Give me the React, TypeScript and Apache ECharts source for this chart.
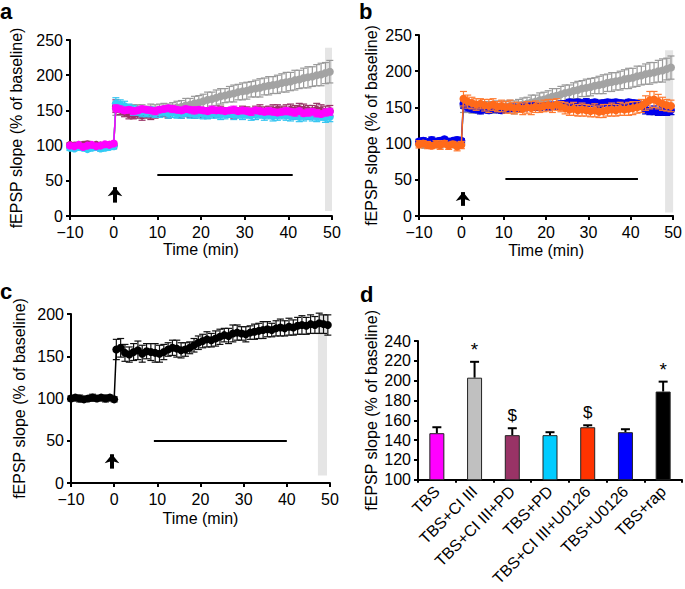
import React, { useEffect, useRef } from 'react';
import * as echarts from 'echarts';

const FONT = "'Liberation Sans', Arial, Helvetica, sans-serif";

// time points (min)
const TIME = [
  -10, -9, -8, -7, -6, -5, -4, -3, -2, -1, 0,
  0.5, 1.5, 2.5, 3.5, 4.5, 5.5, 6.5, 7.5, 8.5, 9.5,
  10.5, 11.5, 12.5, 13.5, 14.5, 15.5, 16.5, 17.5, 18.5, 19.5,
  20.5, 21.5, 22.5, 23.5, 24.5, 25.5, 26.5, 27.5, 28.5, 29.5,
  30.5, 31.5, 32.5, 33.5, 34.5, 35.5, 36.5, 37.5, 38.5, 39.5,
  40.5, 41.5, 42.5, 43.5, 44.5, 45.5, 46.5, 47.5, 48.5, 49.5,
];

// TBS (magenta)
const TBS_VAL = [
  100, 99, 101, 98, 100, 101, 99, 100, 102, 101, 103,
  153, 152, 150, 151, 149, 150, 152, 151, 150, 149,
  151, 152, 153, 152, 151, 150, 152, 151, 150, 151,
  150, 149, 151, 150, 150, 149, 150, 151, 149, 150,
  149, 148, 150, 149, 148, 149, 148, 147, 148, 149,
  148, 147, 149, 146, 147, 148, 146, 145, 147, 148,
];
const TBS_ERR = [
  3, 3, 2, 3, 3, 2, 3, 3, 2, 3, 3,
  5, 4, 4, 4, 5, 4, 4, 4, 4, 5,
  4, 4, 4, 5, 4, 4, 4, 4, 5, 4,
  4, 4, 5, 4, 4, 4, 4, 5, 4, 4,
  4, 5, 4, 4, 4, 5, 4, 4, 4, 5,
  4, 5, 4, 4, 5, 4, 5, 4, 5, 5,
];

// TBS+PD (cyan)
const PD_VAL = [
  97, 96, 98, 97, 95, 97, 98, 96, 97, 98, 99,
  160, 158, 156, 153, 150, 149, 148, 147, 148, 146,
  147, 148, 146, 147, 145, 146, 147, 146, 145, 146,
  145, 144, 146, 145, 144, 145, 146, 144, 145, 144,
  145, 143, 144, 145, 143, 144, 142, 143, 144, 143,
  142, 143, 141, 142, 143, 142, 141, 142, 140, 141,
];
const PD_ERR = [
  4, 3, 4, 4, 3, 4, 3, 4, 4, 3, 4,
  8, 7, 7, 6, 7, 6, 7, 6, 7, 6,
  7, 6, 7, 7, 6, 7, 6, 7, 6, 7,
  7, 6, 7, 6, 7, 7, 6, 7, 6, 7,
  6, 7, 7, 6, 7, 6, 7, 7, 6, 7,
  7, 6, 7, 7, 6, 7, 7, 6, 7, 7,
];

// TBS+CI III+PD (purple)
const CIPD_VAL = [
  101, 100, 99, 101, 102, 100, 101, 100, 99, 101, 100,
  156, 152, 148, 145, 144, 146, 143, 145, 144, 146,
  147, 148, 146, 149, 147, 146, 148, 147, 146, 148,
  147, 146, 148, 147, 149, 148, 147, 146, 148, 149,
  148, 147, 149, 150, 148, 149, 150, 151, 149, 150,
  151, 150, 152, 151, 150, 149, 151, 150, 148, 149,
];
const CIPD_ERR = [
  3, 4, 3, 3, 4, 3, 3, 4, 3, 3, 4,
  9, 8, 7, 7, 6, 7, 7, 6, 7, 7,
  6, 7, 7, 6, 7, 7, 6, 7, 7, 6,
  7, 7, 6, 7, 7, 6, 7, 7, 6, 7,
  7, 6, 7, 8, 7, 7, 8, 7, 7, 8,
  8, 7, 8, 8, 7, 8, 9, 8, 8, 8,
];

// TBS+CI III (gray)
const CI_VAL = [
  100, 98, 101, 99, 100, 98, 101, 100, 99, 100, 101,
  152, 151, 150, 149, 150, 151, 150, 149, 151, 150,
  151, 152, 150, 153, 154, 155, 157, 158, 160, 161,
  163, 165, 166, 168, 170, 171, 173, 174, 176, 177,
  178, 180, 181, 182, 184, 185, 186, 187, 189, 190,
  191, 193, 194, 196, 197, 198, 200, 201, 203, 205,
];
const CI_ERR = [
  3, 3, 4, 3, 3, 4, 3, 3, 4, 3, 3,
  9, 8, 8, 7, 8, 7, 8, 7, 8, 8,
  8, 8, 9, 8, 9, 9, 10, 9, 10, 10,
  10, 11, 10, 11, 11, 10, 11, 12, 11, 12,
  12, 11, 12, 13, 12, 13, 12, 13, 13, 14,
  13, 14, 13, 14, 15, 14, 15, 16, 15, 16,
];

// TBS+U0126 (blue)
const U_VAL = [
  103, 104, 102, 105, 103, 104, 106, 103, 104, 105, 104,
  155, 150, 148, 147, 146, 147, 146, 148, 147, 146,
  148, 149, 150, 149, 151, 150, 152, 151, 150, 152,
  151, 153, 152, 154, 155, 157, 156, 157, 156, 157,
  156, 157, 155, 156, 157, 156, 157, 156, 155, 157,
  156, 155, 153, 147, 145, 146, 144, 145, 144, 146,
];
const U_ERR = [
  3, 4, 3, 4, 3, 4, 3, 4, 3, 4, 3,
  6, 5, 4, 4, 5, 4, 4, 5, 4, 4,
  4, 5, 4, 4, 5, 4, 4, 5, 4, 4,
  5, 4, 4, 5, 4, 4, 5, 4, 4, 5,
  4, 4, 5, 4, 4, 5, 4, 4, 5, 4,
  4, 5, 5, 6, 5, 6, 5, 6, 5, 6,
];

// TBS+CI III+U0126 (orange)
const CIU_VAL = [
  99, 100, 98, 97, 99, 98, 100, 97, 99, 96, 98,
  162, 158, 156, 154, 155, 153, 152, 154, 151, 152,
  150, 151, 149, 150, 148, 150, 149, 151, 150, 152,
  153, 152, 154, 151, 149, 147, 148, 146, 147, 146,
  145, 146, 144, 145, 146, 147, 146, 148, 147, 148,
  149, 150, 152, 156, 160, 161, 158, 155, 153, 152,
];
const CIU_ERR = [
  5, 4, 5, 4, 5, 6, 4, 5, 4, 6, 5,
  10, 9, 8, 8, 7, 8, 9, 8, 7, 8,
  8, 9, 8, 7, 8, 8, 9, 8, 7, 8,
  8, 9, 8, 7, 8, 8, 9, 8, 9, 8,
  8, 9, 8, 9, 8, 9, 8, 9, 8, 9,
  9, 8, 9, 10, 12, 11, 10, 9, 8, 8,
];

// TBS+rap (black)
const RAP_VAL = [
  100, 101, 100, 99, 100, 101, 100, 101, 100, 101, 99,
  158, 160, 154, 152, 155, 157, 153, 156, 155, 154,
  153, 155, 158, 160, 159, 157, 158, 160, 163, 166,
  168, 170, 169, 171, 173, 175, 174, 177, 178, 177,
  176, 178, 179, 180, 181, 182, 181, 183, 184, 183,
  185, 184, 186, 187, 186, 188, 187, 189, 188, 187,
];
const RAP_ERR = [
  3, 3, 4, 3, 3, 4, 3, 3, 4, 3, 3,
  12, 11, 10, 9, 10, 11, 10, 9, 10, 11,
  10, 9, 8, 9, 10, 9, 8, 7, 8, 8,
  8, 9, 8, 9, 9, 8, 9, 10, 9, 8,
  9, 8, 9, 9, 10, 9, 8, 9, 10, 9,
  10, 9, 10, 11, 10, 11, 10, 12, 11, 12,
];

// panel d
const BAR_CATS = ['TBS', 'TBS+CI III', 'TBS+CI III+PD', 'TBS+PD', 'TBS+CI III+U0126', 'TBS+U0126', 'TBS+rap'];
const BAR_VAL = [147, 203, 145, 145, 153, 148, 189];
const BAR_ERR = [6, 16, 7, 3, 2, 3, 10];
const BAR_MARK = ['', '*', '$', '', '$', '', '*'];
const BAR_COLORS = ['#ff00ff', '#c0c0c0', '#993366', '#00ccff', '#ff3300', '#0000ff', '#000000'];

// annotations per time panel: [band x0, band x1, band y0, band y1], [bar x0, x1, y], [arrow x, y0, y1]
const BAND_A = [48.4, 50.3, 7, 239];
const BAND_B = [48.1, 50.2, 5, 229];
const BAND_C = [47.2, 49.3, 9, 216];
const DRUG_A = [10, 41, 58];
const DRUG_B = [10.4, 41.7, 51];
const DRUG_C = [9.2, 40, 50];
const ARROW_A = [0.3, 19, 41];
const ARROW_B = [0.4, 14, 33];
const ARROW_C = [-0.5, 17, 34];

const TIME_TICKS = { min: -10, max: 50, interval: 10 };

const axisLineStyle = { show: true, onZero: false, lineStyle: { color: '#000', width: 2 } };
const axisTickStyle = { show: true, inside: false, length: 4, lineStyle: { color: '#000', width: 2 } };
const labelStyle = { color: '#000', fontSize: 16, fontFamily: FONT };

function fmtTime(v: number) {
  return v < 0 ? '\u2212' + Math.abs(v) : String(v);
}

function errRender(color: string, cap: number) {
  return (params: any, api: any) => {
    const x = api.value(0);
    const y = api.value(1);
    const e = api.value(2);
    const top = api.coord([x, y + e]);
    const bot = api.coord([x, y - e]);
    const style = { stroke: color, lineWidth: 1.2 };
    return {
      type: 'group',
      children: [
        { type: 'line', shape: { x1: top[0], y1: top[1], x2: bot[0], y2: bot[1] }, style },
        { type: 'line', shape: { x1: top[0] - cap, y1: top[1], x2: top[0] + cap, y2: top[1] }, style },
        { type: 'line', shape: { x1: bot[0] - cap, y1: bot[1], x2: bot[0] + cap, y2: bot[1] }, style },
      ],
    };
  };
}

function timeSeries(name: string, vals: number[], errs: number[], color: string, errColor: string, gi: number, z: number) {
  return [
    {
      type: 'custom',
      name: name + ' err',
      xAxisIndex: gi,
      yAxisIndex: gi,
      z,
      silent: true,
      renderItem: errRender(errColor, 3.5),
      encode: { x: 0, y: 1 },
      data: TIME.map((t, i) => [t, vals[i], errs[i]]),
    },
    {
      type: 'line',
      name,
      xAxisIndex: gi,
      yAxisIndex: gi,
      z: z + 0.5,
      silent: true,
      symbol: 'circle',
      symbolSize: 8,
      itemStyle: { color },
      lineStyle: { color, width: 1.5 },
      data: TIME.map((t, i) => [t, vals[i]]),
    },
  ];
}

function annot(gi: number, band: number[], drug: number[], arrow: number[]) {
  return {
    type: 'line',
    name: 'annot' + gi,
    xAxisIndex: gi,
    yAxisIndex: gi,
    z: 20,
    silent: true,
    data: [],
    markArea: {
      silent: true,
      itemStyle: { color: 'rgba(215,215,215,0.65)' },
      label: { show: false },
      data: [[{ coord: [band[0], band[2]] }, { coord: [band[1], band[3]] }]],
    },
    markLine: {
      silent: true,
      animation: false,
      label: { show: false },
      symbol: ['none', 'none'],
      lineStyle: { color: '#000', width: 2, type: 'solid' },
      data: [
        [{ coord: [drug[0], drug[2]] }, { coord: [drug[1], drug[2]] }],
        [
          { coord: [arrow[0], arrow[1]], symbol: 'none' },
          { coord: [arrow[0], arrow[2]], symbol: 'arrow', symbolSize: [11, 9], lineStyle: { width: 4 } },
        ],
      ],
    },
  };
}

function timeX(gi: number, nameGap: number) {
  return {
    type: 'value',
    gridIndex: gi,
    ...TIME_TICKS,
    name: 'Time (min)',
    nameLocation: 'middle',
    nameGap,
    nameTextStyle: labelStyle,
    axisLine: axisLineStyle,
    axisTick: axisTickStyle,
    splitLine: { show: false },
    axisLabel: { ...labelStyle, margin: 8, formatter: fmtTime },
  };
}

function yAx(gi: number, min: number, max: number, interval: number, nameGap: number) {
  return {
    type: 'value',
    gridIndex: gi,
    min,
    max,
    interval,
    name: 'fEPSP slope (% of baseline)',
    nameLocation: 'middle',
    nameGap,
    nameTextStyle: labelStyle,
    axisLine: axisLineStyle,
    axisTick: axisTickStyle,
    splitLine: { show: false },
    axisLabel: { ...labelStyle, margin: 7 },
  };
}

export default function App() {
  const ref = useRef<HTMLDivElement>(null);
  useEffect(() => {
    if (!ref.current) return;
    const chart = echarts.init(ref.current, undefined, { renderer: 'svg' });

    const barErrRender = (params: any, api: any) => {
      const x = api.value(0);
      const y = api.value(1);
      const e = api.value(2);
      const base = api.coord([x, y]);
      const top = api.coord([x, y + e]);
      const style = { stroke: '#000', lineWidth: 2 };
      const mark = BAR_MARK[params.dataIndex];
      const children: any[] = [
        { type: 'line', shape: { x1: base[0], y1: base[1], x2: top[0], y2: top[1] }, style },
        { type: 'line', shape: { x1: top[0] - 4.5, y1: top[1], x2: top[0] + 4.5, y2: top[1] }, style },
      ];
      if (mark) {
        children.push({
          type: 'text',
          style: {
            text: mark,
            x: top[0],
            y: mark === '*' ? top[1] - 3 : top[1] - 4,
            align: 'center',
            verticalAlign: 'bottom',
            fontSize: mark === '*' ? 19 : 17,
            fontFamily: FONT,
            fill: '#000',
          },
        });
      }
      return { type: 'group', children };
    };

    const option: any = {
      animation: false,
      backgroundColor: '#fff',
      grid: [
        { left: 70, top: 40, width: 262, height: 176 },
        { left: 419, top: 35, width: 259, height: 181 },
        { left: 71, top: 314, width: 259, height: 169 },
        { left: 418, top: 341, width: 264, height: 143 },
      ],
      xAxis: [
        timeX(0, 25),
        timeX(1, 26),
        timeX(2, 27),
        {
          type: 'category',
          gridIndex: 3,
          data: BAR_CATS,
          axisLine: axisLineStyle,
          axisTick: { ...axisTickStyle, length: 3 },
          splitLine: { show: false },
          axisLabel: { ...labelStyle, interval: 0, rotate: 45, margin: 9 },
        },
      ],
      yAxis: [
        yAx(0, 0, 250, 50, 46),
        yAx(1, 0, 250, 50, 40),
        yAx(2, 0, 200, 50, 44),
        yAx(3, 100, 240, 20, 39),
      ],
      graphic: [
        { type: 'text', left: 0, top: 0, style: { text: 'a', fontSize: 22, fontWeight: 'bold', fontFamily: FONT, fill: '#000' } },
        { type: 'text', left: 359, top: 0, style: { text: 'b', fontSize: 22, fontWeight: 'bold', fontFamily: FONT, fill: '#000' } },
        { type: 'text', left: 0, top: 280, style: { text: 'c', fontSize: 22, fontWeight: 'bold', fontFamily: FONT, fill: '#000' } },
        { type: 'text', left: 360, top: 283, style: { text: 'd', fontSize: 22, fontWeight: 'bold', fontFamily: FONT, fill: '#000' } },
      ],
      series: [
        // panel a
        ...timeSeries('TBS+CI III', CI_VAL, CI_ERR, '#a3a3a3', '#999999', 0, 2),
        ...timeSeries('TBS+CI III+PD', CIPD_VAL, CIPD_ERR, '#993366', '#993366', 0, 3),
        ...timeSeries('TBS+PD', PD_VAL, PD_ERR, '#33ccf5', '#33c4f0', 0, 4),
        ...timeSeries('TBS', TBS_VAL, TBS_ERR, '#ff00ff', '#ee22ee', 0, 5),
        annot(0, BAND_A, DRUG_A, ARROW_A),
        // panel b
        ...timeSeries('TBS+CI III', CI_VAL, CI_ERR, '#a3a3a3', '#999999', 1, 2),
        ...timeSeries('TBS+U0126', U_VAL, U_ERR, '#0000ee', '#0000cc', 1, 3),
        ...timeSeries('TBS+CI III+U0126', CIU_VAL, CIU_ERR, '#ff6a1a', '#ff7a30', 1, 4),
        annot(1, BAND_B, DRUG_B, ARROW_B),
        // panel c
        ...timeSeries('TBS+rap', RAP_VAL, RAP_ERR, '#000000', '#111111', 2, 2),
        annot(2, BAND_C, DRUG_C, ARROW_C),
        // panel d
        {
          type: 'bar',
          xAxisIndex: 3,
          yAxisIndex: 3,
          barWidth: 15,
          silent: true,
          z: 2,
          data: BAR_VAL.map((v, i) => ({
            value: v,
            itemStyle: { color: BAR_COLORS[i], borderColor: '#222', borderWidth: 1 },
          })),
        },
        {
          type: 'custom',
          xAxisIndex: 3,
          yAxisIndex: 3,
          z: 1,
          silent: true,
          renderItem: barErrRender,
          encode: { x: 0, y: 1 },
          data: BAR_VAL.map((v, i) => [i, v, BAR_ERR[i]]),
        },
      ],
    };
    chart.setOption(option);
    return () => chart.dispose();
  }, []);
  return (
    <div
      ref={ref}
      style={{ position: 'fixed', left: 0, top: 0, width: 685, height: 589, background: '#fff' }}
    />
  );
}
